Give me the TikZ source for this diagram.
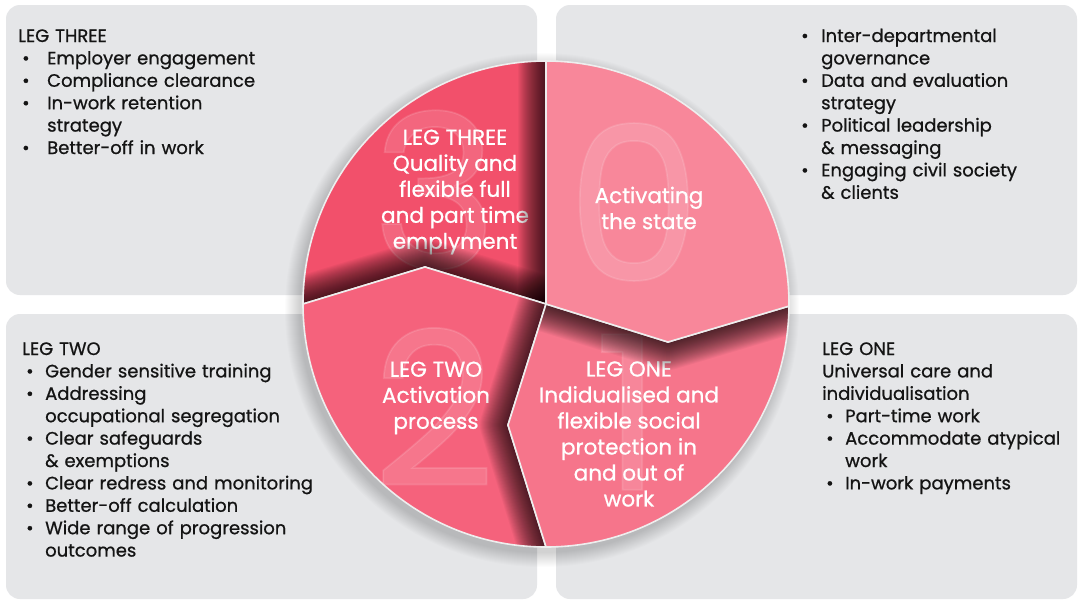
\documentclass[tikz,border=0pt]{standalone}
\usepackage{fontspec}
\setmainfont{Poppins}[FakeBold=0.8]
\definecolor{panel}{HTML}{E5E6E8}
\definecolor{segzero}{HTML}{F8879A}
\definecolor{segone}{HTML}{F6758B}
\definecolor{segtwo}{HTML}{F5627C}
\definecolor{segthree}{HTML}{F2506B}
\definecolor{ink}{HTML}{141414}
\definecolor{rim}{HTML}{EEEEEE}
\newcommand\bit[2]{\par\noindent\hangindent=#1pt\hangafter=1\makebox[#1pt][l]{\hspace{4pt}\textbullet}#2}
\newcommand\castshadow[1]{\foreach \w in {2,4,...,56}{\draw[line width=\w pt,black,opacity=0.035,line join=round] #1;}}
\begin{document}
\begin{tikzpicture}[x=1pt,y=-1pt,
  panelbox/.style={fill=panel,rounded corners=14pt},
  paneltext/.style={text=ink,font=\fontsize{18}{22.4}\selectfont,text width=320pt,align=left,inner sep=0pt,anchor=base west},
  pietext/.style={text=white,font=\fontsize{21.5}{26}\selectfont,align=center,inner sep=0pt},
  numeral/.style={text=white,text opacity=0.13,font=\fontsize{215}{215}\selectfont,inner sep=0pt},
  seg/.style={draw=rim,line width=1.6pt,line join=round}]
\useasboundingbox (0,0) rectangle (1078,600);
\fill[white] (0,0) rectangle (1078,600);
% panels
\fill[panelbox] (6,5) rectangle (537,295);
\fill[panelbox] (556,5) rectangle (1077,295);
\fill[panelbox] (6,314) rectangle (537,599);
\fill[panelbox] (556,314) rectangle (1077,599);
% panel texts
\node[paneltext] (tl) at (18,42) {LEG THREE
\bit{29}{Employer engagement}
\bit{29}{Compliance clearance}
\bit{29}{In-work retention\newline strategy}
\bit{29}{Better-off in work}\par};
\node[paneltext] (tr) at (797,19.6) {\bit{24}{Inter-departmental\newline governance}
\bit{24}{Data and evaluation\newline strategy}
\bit{24}{Political leadership\newline \& messaging}
\bit{24}{Engaging civil society\newline \& clients}\par};
\node[paneltext] (bl) at (22,355) {LEG TWO
\bit{23}{Gender sensitive training}
\bit{23}{Addressing\newline occupational segregation}
\bit{23}{Clear safeguards\newline \& exemptions}
\bit{23}{Clear redress and monitoring}
\bit{23}{Better-off calculation}
\bit{23}{Wide range of progression\newline outcomes}\par};
\node[paneltext] (br) at (822,355) {LEG ONE\\Universal care and\\individualisation
\bit{23}{Part-time work}
\bit{23}{Accommodate atypical\newline work}
\bit{23}{In-work payments}\par};
% pie geometry
\coordinate (C) at (546,304);
\coordinate (T) at (546,61);
\coordinate (L) at (303,304);
\coordinate (B) at (546,547);
\coordinate (Rt) at (789,306);
\coordinate (A3) at (425,267);
\coordinate (A0) at (668,342);
\coordinate (A1) at (508,425);
% drop shadow of the pie
\foreach \r in {243,...,257}{\fill[black,opacity=0.012] (542,310) circle[radius=\r];}
% segment three
\fill[segthree] (C) -- (T) arc[start angle=-90,end angle=-180,radius=243] -- (A3) -- cycle;
\node[numeral] (n3) at (435,190) {3};
\node[pietext] (p3) at (455,192) {LEG THREE\\Quality and\\flexible full\\and part time\\emplyment};
\begin{scope}
\clip (C) -- (T) arc[start angle=-90,end angle=-180,radius=243] -- (A3) -- cycle;
\castshadow{(T) -- (C)}
\castshadow{(L) -- (A3) -- (C)}
\end{scope}
\draw[seg] (C) -- (T) arc[start angle=-90,end angle=-180,radius=243] -- (A3) -- cycle;
% segment two
\fill[segtwo] (L) -- (A3) -- (C) -- (A1) -- (B) arc[start angle=90,end angle=180,radius=243] -- cycle;
\node[numeral] (n2) at (434,407) {2};
\node[pietext] (p2) at (436,398) {LEG TWO\\Activation\\process};
\begin{scope}
\clip (L) -- (A3) -- (C) -- (A1) -- (B) arc[start angle=90,end angle=180,radius=243] -- cycle;
\castshadow{(C) -- (A1) -- (B)}
\end{scope}
\draw[seg] (L) -- (A3) -- (C) -- (A1) -- (B) arc[start angle=90,end angle=180,radius=243] -- cycle;
% segment one
\fill[segone] (C) -- (A1) -- (B) arc[start angle=90,end angle=0.5,radius=243] -- (A0) -- cycle;
\node[numeral] (n1) at (628,412) {1};
\node[pietext] (p1) at (629,434) {LEG ONE\\Indidualised and\\flexible social\\protection in\\and out of\\work};
\begin{scope}
\clip (C) -- (A1) -- (B) arc[start angle=90,end angle=0.5,radius=243] -- (A0) -- cycle;
\castshadow{(Rt) -- (A0) -- (C)}
\end{scope}
\draw[seg] (C) -- (A1) -- (B) arc[start angle=90,end angle=0.5,radius=243] -- (A0) -- cycle;
% segment zero
\fill[segzero] (C) -- (T) arc[start angle=-90,end angle=0.5,radius=243] -- (A0) -- cycle;
\node[numeral] (n0) at (634,202) {0};
\node[pietext] (p0) at (649,208) {Activating\\the state};
\draw[seg] (C) -- (T) arc[start angle=-90,end angle=0.5,radius=243] -- (A0) -- cycle;
\end{tikzpicture}
\end{document}
